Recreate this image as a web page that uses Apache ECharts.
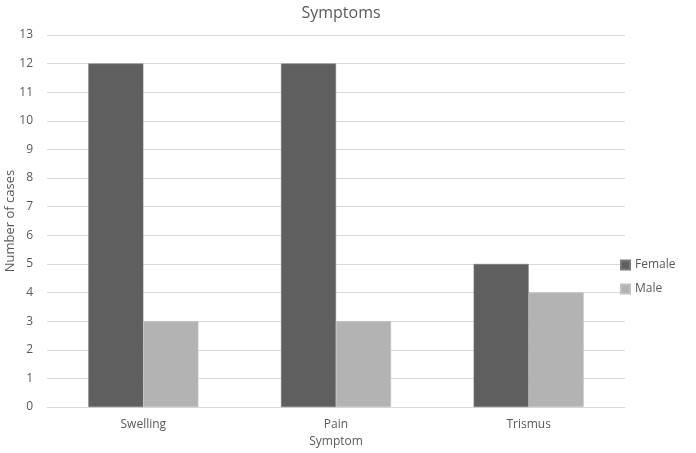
<!DOCTYPE html>
<html><head><meta charset="utf-8">
<script src="https://cdn.jsdelivr.net/npm/echarts@6/dist/echarts.min.js"></script>
<style>html,body{margin:0;padding:0;background:#fff}#c{width:696px;height:453px}</style>
</head><body><div id="c"></div>
<script>
const categories = ['Swelling', 'Pain', 'Trismus'];
const female = [12, 12, 5];
const male = [3, 3, 4];
const yTicks = {min: 0, max: 13, interval: 1};

const font = 'Open Sans';
const chart = echarts.init(document.getElementById('c'));
chart.setOption({
  animation: false,
  textStyle: {fontFamily: font},
  title: {text: 'Symptoms', left: 336, top: 0, textAlign: 'center',
    textStyle: {fontFamily: font, fontSize: 16, fontWeight: 'normal', color: '#595959'}},
  legend: {orient: 'vertical', left: 615, top: 254, itemWidth: 9, itemHeight: 9, itemGap: 12,
    icon: 'rect', textStyle: {fontFamily: font, fontSize: 12, color: '#595959'},
    data: ['Female', 'Male']},
  grid: {left: 47, right: 71, top: 35, bottom: 46, outerBoundsMode: 'none', containLabel: false},
  xAxis: {type: 'category', data: categories, name: 'Symptom', nameLocation: 'middle', nameGap: 29,
    nameMoveOverlap: false,
    nameTextStyle: {fontSize: 12, color: '#595959'},
    axisLine: {lineStyle: {color: '#d9d9d9'}}, axisTick: {show: false},
    axisLabel: {fontSize: 12, color: '#595959', margin: 12}},
  yAxis: {type: 'value', min: yTicks.min, max: yTicks.max, interval: yTicks.interval,
    name: 'Number of cases', nameLocation: 'middle', nameGap: 30, nameMoveOverlap: false,
    nameTextStyle: {fontSize: 13, color: '#595959'},
    axisLine: {show: false}, axisTick: {show: false},
    axisLabel: {fontSize: 12, color: '#595959', margin: 14},
    splitLine: {lineStyle: {color: '#d9d9d9'}}},
  series: [
    {name: 'Female', type: 'bar', data: female, barWidth: 55, barGap: '0%',
      itemStyle: {color: '#5f5f5f', borderColor: '#7a7a7a', borderWidth: 0.5}},
    {name: 'Male', type: 'bar', data: male, barWidth: 55, barGap: '0%',
      itemStyle: {color: '#b3b3b3', borderColor: '#c0c0c0', borderWidth: 0.5}}
  ]
});
</script></body></html>
